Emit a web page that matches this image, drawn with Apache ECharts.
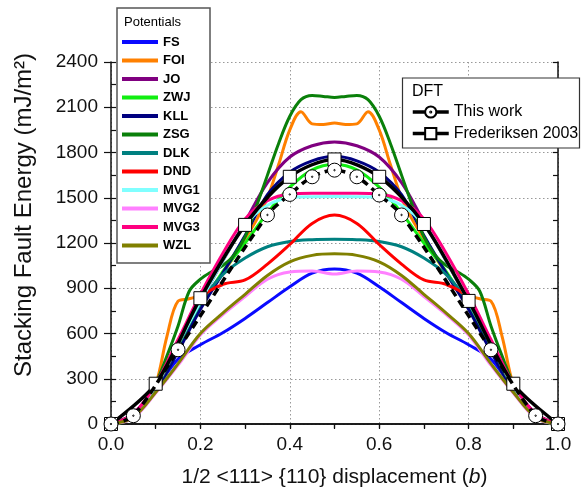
<!DOCTYPE html>
<html>
<head>
<meta charset="utf-8">
<script src="https://cdn.jsdelivr.net/npm/echarts@6.0.0/dist/echarts.min.js"></script>
<style>
  html, body { margin: 0; padding: 0; background: #fff; }
  #chart { width: 581px; height: 492px; }
</style>
</head>
<body>
<div id="chart"></div>
<script>
// x positions (b)
const xs = [0, 0.05, 0.1, 0.15, 0.2, 0.25, 0.3, 0.35, 0.4, 0.45, 0.5, 0.55, 0.6, 0.65, 0.7, 0.75, 0.8, 0.85, 0.9, 0.95, 1.0]
const xsFine = [0, 0.025, 0.05, 0.075, 0.1, 0.125, 0.15, 0.175, 0.2, 0.225, 0.25, 0.275, 0.3, 0.325, 0.35, 0.375, 0.4, 0.425, 0.45, 0.475, 0.5,
  0.525, 0.55, 0.575, 0.6, 0.625, 0.65, 0.675, 0.7, 0.725, 0.75, 0.775, 0.8, 0.825, 0.85, 0.875, 0.9, 0.925, 0.95, 0.975, 1.0]

// interatomic potentials (mJ/m^2)
const fs = [0, 50, 230, 430, 525, 605, 700, 805, 910, 1000, 1028, 1000, 910, 805, 700, 605, 525, 430, 230, 50, 0]
const foi = [0, 15, 60, 140, 260, 580, 815, 830, 855, 900, 1000, 1110, 1230, 1350, 1500, 1720, 1950, 2070, 1990, 1985, 1995,
  1985, 1990, 2070, 1950, 1720, 1500, 1350, 1230, 1110, 1000, 900, 855, 830, 815, 580, 260, 140, 60, 15, 0]
const jo = [0, 70, 255, 530, 810, 1080, 1340, 1600, 1770, 1845, 1870, 1845, 1770, 1600, 1340, 1080, 810, 530, 255, 70, 0]
const zwj = [0, 55, 225, 490, 770, 1010, 1200, 1400, 1570, 1685, 1720, 1685, 1570, 1400, 1200, 1010, 770, 490, 225, 55, 0]
const kll = [0, 55, 225, 480, 760, 1000, 1250, 1520, 1670, 1745, 1775, 1745, 1670, 1520, 1250, 1000, 760, 480, 225, 55, 0]
const zsg = [0, 10, 45, 130, 265, 450, 650, 880, 960, 1010, 1050, 1120, 1240, 1440, 1650, 1860, 2040, 2150, 2178, 2172, 2165,
  2172, 2178, 2150, 2040, 1860, 1650, 1440, 1240, 1120, 1050, 1010, 960, 880, 650, 450, 265, 130, 45, 10, 0]
const dlk = [0, 60, 240, 520, 800, 990, 1100, 1175, 1210, 1222, 1225, 1222, 1210, 1175, 1100, 990, 800, 520, 240, 60, 0]
const dnd = [0, 65, 250, 530, 830, 925, 955, 1060, 1190, 1330, 1385, 1330, 1190, 1060, 955, 925, 830, 530, 250, 65, 0]
const mvg1 = [0, 60, 250, 530, 810, 1080, 1320, 1450, 1500, 1507, 1508, 1507, 1500, 1450, 1320, 1080, 810, 530, 250, 60, 0]
const mvg2 = [0, 40, 205, 390, 590, 725, 845, 960, 1008, 1015, 995, 1015, 1008, 960, 845, 725, 590, 390, 205, 40, 0]
const mvg3 = [0, 65, 265, 560, 860, 1130, 1360, 1480, 1525, 1530, 1530, 1530, 1525, 1480, 1360, 1130, 860, 560, 265, 65, 0]
const wzl = [0, 45, 210, 400, 600, 735, 860, 985, 1075, 1118, 1128, 1118, 1075, 985, 860, 735, 600, 400, 210, 45, 0]

// DFT
const xsThis = [0, 0.05, 0.15, 0.35, 0.4, 0.45, 0.5, 0.55, 0.6, 0.65, 0.85, 0.95, 1.0]
const thisWork = [0, 55, 492, 1386, 1522, 1639, 1683, 1639, 1518, 1386, 492, 55, 0]
const xsFred = [0, 0.1, 0.2, 0.3, 0.4, 0.5, 0.6, 0.7, 0.8, 0.9, 1.0]
const fred = [0, 267, 834, 1320, 1639, 1754, 1639, 1326, 816, 267, 0]

const potentials = [
  { name: 'FS', x: xs, y: fs, color: '#0a0aff' },
  { name: 'FOI', x: xsFine, y: foi, color: '#ff8000' },
  { name: 'JO', x: xs, y: jo, color: '#800080' },
  { name: 'ZWJ', x: xs, y: zwj, color: '#11ee11' },
  { name: 'KLL', x: xs, y: kll, color: '#000080' },
  { name: 'ZSG', x: xsFine, y: zsg, color: '#0a800a' },
  { name: 'DLK', x: xs, y: dlk, color: '#008080' },
  { name: 'DND', x: xs, y: dnd, color: '#ff0000' },
  { name: 'MVG1', x: xs, y: mvg1, color: '#80ffff' },
  { name: 'MVG2', x: xs, y: mvg2, color: '#ff80ff' },
  { name: 'MVG3', x: xs, y: mvg3, color: '#ff0080' },
  { name: 'WZL', x: xs, y: wzl, color: '#808000' }
]

const font = 'Liberation Sans, Arial, Helvetica, sans-serif'
const circleDot = 'path://M0,10 A10,10 0 1,1 20,10 A10,10 0 1,1 0,10 Z M9,10 A1,1 0 1,1 11,10 A1,1 0 1,1 9,10 Z'

const pairs = (x, y) => x.map((v, i) => [v, y[i]])

const series = potentials.map(p => ({
  name: p.name,
  type: 'line',
  data: pairs(p.x, p.y),
  smooth: 0.35,
  showSymbol: false,
  symbol: 'none',
  color: p.color,
  lineStyle: { width: 3, color: p.color },
  z: 2
}))

series.push({
  name: 'Frederiksen 2003',
  type: 'line',
  data: pairs(xsFred, fred),
  smooth: 0.3,
  symbol: 'rect',
  symbolSize: 13,
  color: '#000',
  itemStyle: { color: '#fff', borderColor: '#000', borderWidth: 1 },
  lineStyle: { width: 3.5, color: '#000' },
  z: 3
})

series.push({
  name: 'This work',
  type: 'line',
  data: pairs(xsThis, thisWork),
  smooth: 0.3,
  symbol: circleDot,
  symbolSize: 14,
  color: '#000',
  itemStyle: { color: '#fff', borderColor: '#000', borderWidth: 1 },
  lineStyle: { width: 3.5, color: '#000', type: [8, 5] },
  z: 4
})

const chart = echarts.init(document.getElementById('chart'))

const option = {
  animation: false,
  backgroundColor: '#fff',
  textStyle: { fontFamily: font },
  grid: { left: 111, right: 23, top: 62, bottom: 68, containLabel: false, outerBoundsMode: 'none' },
  xAxis: [
    {
      type: 'value', min: 0, max: 1, interval: 0.2, position: 'bottom',
      name: '1/2 <111> {110} displacement ({i|b})',
      nameLocation: 'middle', nameGap: 43,
      nameTextStyle: { fontSize: 21, color: '#111', fontFamily: font, rich: { i: { fontSize: 21, fontStyle: 'italic', color: '#111', fontFamily: font } } },
      axisLine: { lineStyle: { color: '#111', width: 1.5 } },
      axisTick: { inside: false, length: 5, lineStyle: { color: '#111', width: 1.2 } },
      minorTick: { show: true, splitNumber: 2, length: 5, lineStyle: { color: '#111', width: 1.2 } },
      axisLabel: { fontSize: 19, color: '#111', margin: 11, formatter: v => v.toFixed(1) },
      splitLine: { show: true, lineStyle: { color: '#999', type: [1.5, 2.5], width: 1 } }
    },
    {
      type: 'value', min: 0, max: 1, interval: 0.1, position: 'top',
      axisLine: { show: true, lineStyle: { color: '#111', width: 1.5 } },
      axisTick: { inside: true, length: 4, lineStyle: { color: '#111', width: 1.2 } },
      axisLabel: { show: false },
      splitLine: { show: false }
    }
  ],
  yAxis: [
    {
      type: 'value', min: 0, max: 2400, interval: 300, position: 'left',
      axisLine: { show: true, lineStyle: { color: '#111', width: 1.5 } },
      axisTick: { show: true, inside: false, length: 7, lineStyle: { color: '#111', width: 1.2 } },
      axisLabel: { fontSize: 19, color: '#111', margin: 13, formatter: v => String(v) },
      splitLine: { show: true, lineStyle: { color: '#999', type: [1.5, 2.5], width: 1 } }
    },
    {
      type: 'value', min: 0, max: 2400, interval: 150, position: 'left',
      axisLine: { show: false },
      axisTick: { show: true, inside: true, length: 5, lineStyle: { color: '#111', width: 1.2 } },
      axisLabel: { show: false },
      splitLine: { show: false }
    },
    {
      type: 'value', min: 0, max: 2400, interval: 150, position: 'right',
      axisLine: { show: true, lineStyle: { color: '#111', width: 1.5 } },
      axisTick: { show: true, inside: true, length: 5, lineStyle: { color: '#111', width: 1.2 } },
      axisLabel: { show: false },
      splitLine: { show: false }
    }
  ],
  legend: [
    {
      data: potentials.map(p => p.name),
      orient: 'vertical',
      left: 122, top: 35,
      padding: 0,
      icon: 'rect',
      itemWidth: 36, itemHeight: 4, itemGap: 4.5,
      selectedMode: false,
      textStyle: { fontSize: 13, fontWeight: 'bold', color: '#000', fontFamily: font, lineHeight: 14 },
      z: 10
    },
    {
      data: ['This work', 'Frederiksen 2003'],
      orient: 'vertical',
      left: 411, top: 104,
      padding: 0,
      itemWidth: 36, itemHeight: 14, itemGap: 5.6,
      selectedMode: false,
      lineStyle: { type: 'solid', width: 3.5 },
      textStyle: { fontSize: 16, color: '#000', fontFamily: font, lineHeight: 16 },
      z: 10
    }
  ],
  graphic: [
    {
      // y axis title, centred a bit above the plot middle as in the original
      type: 'text', z: 9, x: 24, y: 215, rotation: Math.PI / 2,
      style: { text: 'Stacking Fault Energy (mJ/m²)', fontSize: 24, fill: '#111', fontFamily: font, align: 'center', verticalAlign: 'middle' }
    },
    {
      type: 'rect', z: 8,
      shape: { x: 117, y: 8, width: 93, height: 255 },
      style: { fill: '#fff', stroke: '#555', lineWidth: 1.5 }
    },
    {
      type: 'text', z: 9, left: 124, top: 16,
      style: { text: 'Potentials', fontSize: 13, fill: '#000', fontFamily: font }
    },
    {
      type: 'rect', z: 8,
      shape: { x: 402.5, y: 78, width: 177, height: 70 },
      style: { fill: '#fff', stroke: '#333', lineWidth: 1.2 }
    },
    {
      type: 'text', z: 9, left: 412, top: 84,
      style: { text: 'DFT', fontSize: 16, fill: '#000', fontFamily: font }
    }
  ],
  series: series
}

chart.setOption(option)
</script>
</body>
</html>
